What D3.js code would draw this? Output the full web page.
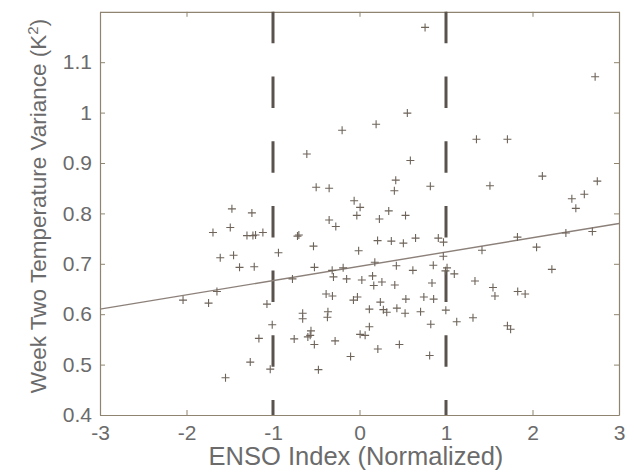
<!DOCTYPE html>
<html>
<head>
<meta charset="utf-8">
<script src="https://cdn.jsdelivr.net/npm/d3@7"></script>
<style>
  body { margin: 0; background: #fff; }
  text { font-family: "Liberation Sans", Arial, sans-serif; }
</style>
</head>
<body>
<div id="container"></div>
<script>
// Données
const ensoIndex = [
  -1.475, -1.244, -1.494, -1.694, -1.301, -1.232, -1.202, -1.117, -1.610, -1.456,
  -1.387, -1.217, -1.648, -2.040, -1.745, -1.070, -1.009, -1.163, -1.263, -1.032,
  -1.549, -0.937, 0.758, 2.724, 0.553, 0.192, -0.201, -0.609, 0.588, 0.419,
  0.403, 0.819, -0.501, -0.351, -0.062, 0.007, 0.338, -0.031, 0.532, 0.230,
  -0.351, -0.274, -0.717, -0.701, -0.532, 0.209, 0.368, 0.507, 0.648, 0.911,
  0.971, -0.010, 0.969, -0.775, -0.521, -0.316, -0.189, -0.301, 0.177, 0.426,
  0.617, 0.853, -0.149, 0.027, 0.151, 0.165, 0.259, 0.408, 0.838, -0.386,
  -0.313, -0.070, -0.024, 0.241, 0.536, 0.744, 0.857, -0.657, -0.657, -0.365,
  -0.371, 0.114, 0.276, 0.315, 0.432, 0.527, 0.706, 0.998, -0.561, -0.570,
  -0.597, -0.755, -0.522, -0.282, 0.114, 0.007, 0.065, 0.212, 0.461, 0.824,
  0.811, -0.103, -0.475, 1.352, 1.710, 1.508, 2.114, 2.749, 2.599, 2.455,
  2.501, 1.826, 2.386, 2.692, 2.047, 1.416, 1.012, 0.994, 1.096, 2.224,
  1.335, 1.543, 1.566, 1.829, 1.915, 1.124, 1.312, 1.710, 1.747
];
const variance = [
  0.809, 0.801, 0.772, 0.762, 0.756, 0.756, 0.757, 0.762, 0.712, 0.717,
  0.693, 0.694, 0.645, 0.628, 0.622, 0.620, 0.579, 0.552, 0.505, 0.491,
  0.474, 0.722, 1.169, 1.071, 0.999, 0.977, 0.965, 0.918, 0.905, 0.866,
  0.845, 0.854, 0.852, 0.850, 0.825, 0.812, 0.805, 0.796, 0.796, 0.789,
  0.787, 0.774, 0.755, 0.757, 0.735, 0.746, 0.745, 0.741, 0.751, 0.751,
  0.743, 0.726, 0.715, 0.670, 0.693, 0.687, 0.692, 0.674, 0.703, 0.696,
  0.687, 0.697, 0.670, 0.668, 0.676, 0.657, 0.664, 0.658, 0.662, 0.640,
  0.636, 0.628, 0.634, 0.624, 0.630, 0.634, 0.630, 0.602, 0.591, 0.605,
  0.594, 0.610, 0.609, 0.604, 0.612, 0.602, 0.605, 0.608, 0.567, 0.558,
  0.555, 0.551, 0.540, 0.547, 0.575, 0.560, 0.558, 0.531, 0.540, 0.580,
  0.518, 0.516, 0.490, 0.947, 0.947, 0.855, 0.874, 0.864, 0.838, 0.829,
  0.810, 0.753, 0.761, 0.764, 0.733, 0.727, 0.692, 0.686, 0.680, 0.689,
  0.666, 0.653, 0.636, 0.645, 0.640, 0.585, 0.593, 0.577, 0.570
];

// Droite de régression (extrémités) et seuils ENSO
const fitX = [-3, 3];
const fitY = [0.610, 0.780];
const thresholds = [-1, 1];

const xTicks = [-3, -2, -1, 0, 1, 2, 3];
const yTicks = [0.4, 0.5, 0.6, 0.7, 0.8, 0.9, 1, 1.1];

// Dimensions
const width = 634;
const height = 472;
const plotLeft = 100, plotRight = 619, plotTop = 11.8, plotBottom = 415;

const xScale = d3.scaleLinear().domain([-3, 3]).range([plotLeft, plotRight]);
const yScale = d3.scaleLinear().domain([0.4, 1.2]).range([plotBottom, plotTop]);

const svg = d3.select("#container")
  .append("svg")
  .attr("width", width)
  .attr("height", height);

const axisColor = "#8f8470";
const textColor = "#6b6b6b";

// Axes (boîte complète, graduations vers l'intérieur)
const xAxisB = d3.axisBottom(xScale).tickValues(xTicks).tickSizeInner(-5).tickSizeOuter(0).tickPadding(10).tickFormat(d => String(d));
const xAxisT = d3.axisTop(xScale).tickValues(xTicks).tickSizeInner(-5).tickSizeOuter(0).tickFormat("");
const yAxisL = d3.axisLeft(yScale).tickValues(yTicks).tickSizeInner(-5).tickSizeOuter(0).tickPadding(8).tickFormat(d => d === 1 ? "1" : d3.format(".1f")(d));
const yAxisR = d3.axisRight(yScale).tickValues(yTicks).tickSizeInner(-5).tickSizeOuter(0).tickFormat("");

function styleAxis(g) {
  g.select(".domain").attr("stroke", axisColor).attr("stroke-width", 1.2);
  g.selectAll(".tick line").attr("stroke", axisColor).attr("stroke-width", 1);
  g.selectAll(".tick text").attr("fill", textColor).style("font-size", "21px")
    .style("font-family", "'Liberation Sans', Arial, sans-serif");
}

svg.append("g").attr("transform", `translate(0,${plotBottom})`).call(xAxisB).call(styleAxis);
svg.append("g").attr("transform", `translate(0,${plotTop})`).call(xAxisT).call(styleAxis);
svg.append("g").attr("transform", `translate(${plotLeft},0)`).call(yAxisL).call(styleAxis);
svg.append("g").attr("transform", `translate(${plotRight},0)`).call(yAxisR).call(styleAxis);

// Lignes verticales en tirets
svg.selectAll(".threshold")
  .data(thresholds)
  .enter()
  .append("line")
  .attr("class", "threshold")
  .attr("x1", d => xScale(d))
  .attr("x2", d => xScale(d))
  .attr("y1", plotTop)
  .attr("y2", plotBottom)
  .attr("stroke", "#5a534d")
  .attr("stroke-width", 3)
  .attr("stroke-dasharray", "31.5,33.2");

// Droite de régression
svg.append("line")
  .attr("x1", xScale(fitX[0]))
  .attr("y1", yScale(fitY[0]))
  .attr("x2", xScale(fitX[1]))
  .attr("y2", yScale(fitY[1]))
  .attr("stroke", "#8c817a")
  .attr("stroke-width", 1.4);

// Points en croix
const s = 4;
svg.selectAll(".pt")
  .data(ensoIndex.map((x, i) => [x, variance[i]]))
  .enter()
  .append("path")
  .attr("class", "pt")
  .attr("d", d => {
    const cx = xScale(d[0]), cy = yScale(d[1]);
    return `M${cx - s},${cy}H${cx + s}M${cx},${cy - s}V${cy + s}`;
  })
  .attr("stroke", "#6e645a")
  .attr("stroke-width", 1.1)
  .attr("fill", "none");

// Titres des axes
svg.append("text")
  .attr("x", 356)
  .attr("y", 465)
  .attr("text-anchor", "middle")
  .attr("fill", textColor)
  .style("font-size", "25.5px")
  .text("ENSO Index (Normalized)");

const yLabel = svg.append("text")
  .attr("transform", "translate(46,206) rotate(-90)")
  .attr("text-anchor", "middle")
  .attr("fill", textColor)
  .style("font-size", "22.5px");
yLabel.append("tspan").text("Week Two Temperature Variance (K");
yLabel.append("tspan").attr("baseline-shift", "super").style("font-size", "15px").text("2");
yLabel.append("tspan").text(")");
</script>
</body>
</html>
